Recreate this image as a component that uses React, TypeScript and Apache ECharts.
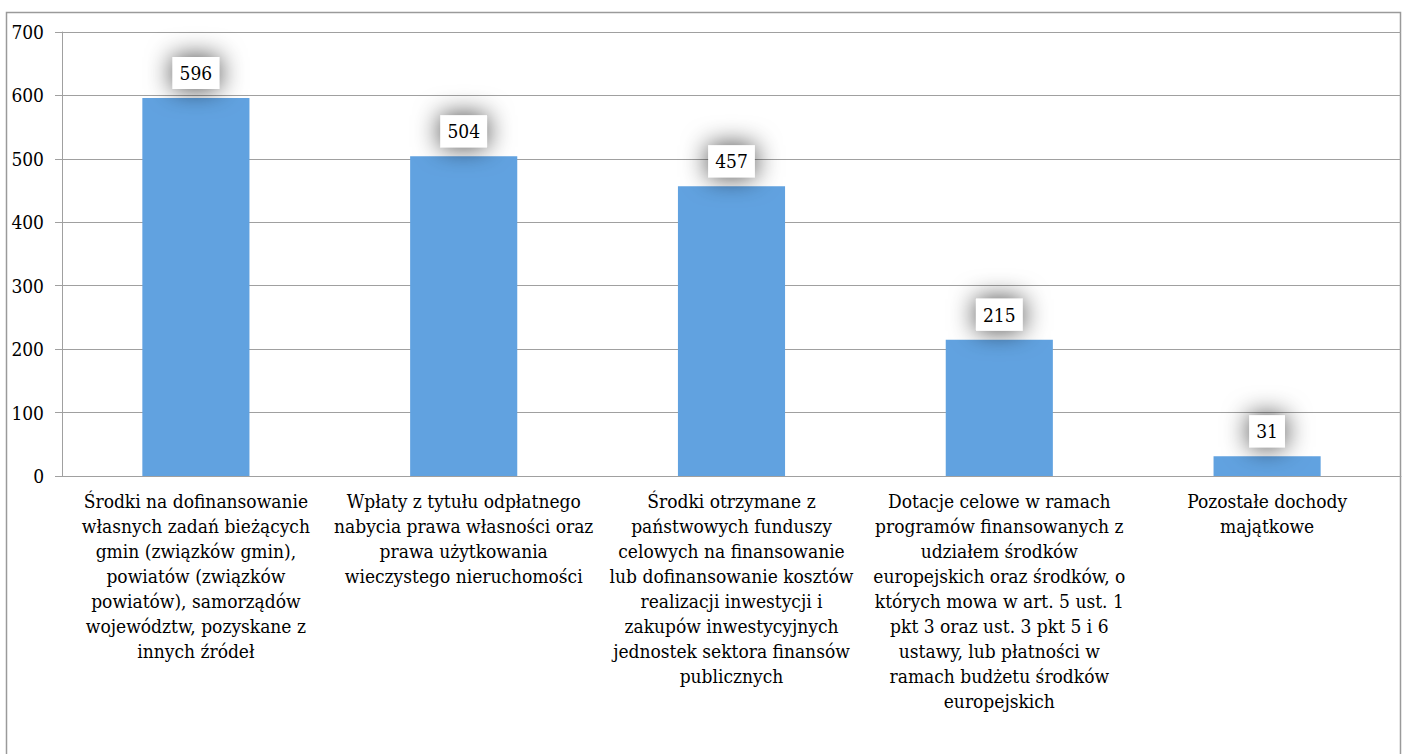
import React, { useEffect, useRef } from "react";
import * as echarts from "echarts";

const categories: string[] = [
  "Środki na dofinansowanie\nwłasnych zadań bieżących\ngmin (związków gmin),\npowiatów (związków\npowiatów), samorządów\nwojewództw, pozyskane z\ninnych źródeł",
  "Wpłaty z tytułu odpłatnego\nnabycia prawa własności oraz\nprawa użytkowania\nwieczystego nieruchomości",
  "Środki otrzymane z\npaństwowych funduszy\ncelowych na finansowanie\nlub dofinansowanie kosztów\nrealizacji inwestycji i\nzakupów inwestycyjnych\njednostek sektora finansów\npublicznych",
  "Dotacje celowe w ramach\nprogramów finansowanych z\nudziałem środków\neuropejskich oraz środków, o\nktórych mowa w art. 5 ust. 1\npkt 3 oraz ust. 3 pkt 5 i 6\nustawy, lub płatności w\nramach budżetu środków\neuropejskich",
  "Pozostałe dochody\nmajątkowe",
];

const values: number[] = [596, 504, 457, 215, 31];

const yMin = 0;
const yMax = 700;
const yInterval = 100;

const FONT = "DejaVu Serif Condensed";

export default function App() {
  const ref = useRef<HTMLDivElement>(null);

  useEffect(() => {
    if (!ref.current) return;
    const chart = echarts.init(ref.current, undefined, { renderer: "svg" });
    chart.setOption({
      animation: false,
      backgroundColor: "#ffffff",
      textStyle: { fontFamily: FONT },
      graphic: [
        {
          type: "rect",
          shape: { x: 6.5, y: 12.5, width: 1394, height: 800 },
          style: { fill: "none", stroke: "#9a9a9a", lineWidth: 1.5 },
          silent: true,
          z: -1,
        },
      ],
      grid: {
        left: 62,
        right: 2,
        top: 32,
        bottom: 278,
        containLabel: false,
        outerBoundsMode: "none",
      },
      xAxis: {
        type: "category",
        data: categories,
        axisTick: { show: false },
        axisLine: { show: true, lineStyle: { color: "#a0a0a0", width: 1 } },
        axisLabel: {
          interval: 0,
          fontSize: 19,
          lineHeight: 25,
          color: "#000",
          fontFamily: FONT,
          margin: 12,
          align: "center",
        },
      },
      yAxis: {
        type: "value",
        min: yMin,
        max: yMax,
        interval: yInterval,
        axisLine: { show: true, lineStyle: { color: "#a0a0a0", width: 1 } },
        axisTick: { show: true, length: 7, lineStyle: { color: "#a0a0a0" } },
        splitLine: { show: true, lineStyle: { color: "#a0a0a0", width: 1 } },
        axisLabel: {
          fontSize: 19,
          color: "#000",
          fontFamily: FONT,
          margin: 18,
        },
      },
      series: [
        {
          type: "bar",
          data: values,
          barWidth: "40%",
          itemStyle: { color: "#61A2E0" },
          label: {
            show: true,
            position: "top",
            distance: 9,
            fontSize: 19,
            lineHeight: 20,
            color: "#000",
            fontFamily: FONT,
            backgroundColor: "#ffffff",
            padding: [6, 7],
            shadowBlur: 26,
            shadowColor: "rgba(0,0,0,0.75)",
          },
        },
      ],
    });
    return () => chart.dispose();
  }, []);

  return (
    <div
      ref={ref}
      style={{ position: "absolute", left: 0, top: 0, width: 1403, height: 754 }}
    />
  );
}
